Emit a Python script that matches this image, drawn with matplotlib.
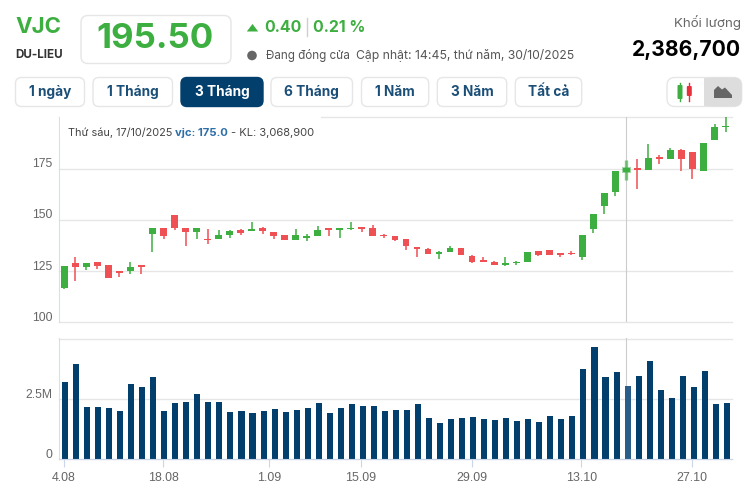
# VJC 3 month candle chart with volume
import numpy as np
import matplotlib
matplotlib.use("Agg")
import matplotlib.pyplot as plt
from matplotlib.patches import FancyBboxPatch, Circle, Polygon, Rectangle
from matplotlib.transforms import ScaledTranslation

plt.rcParams['font.family'] = ['Inter', 'DejaVu Sans']

# values
open_px = [116.8, 129.1, 127.1, 129.4, 128.1, 125.2, 124.8, 127.4, 143.0, 145.8, 152.1, 146.2, 144.0, 140.8, 140.4,
           142.8, 144.8, 144.4, 145.8, 144.1, 142.8, 140.0, 141.0, 142.0, 145.8, 144.9, 145.3, 146.6, 146.2, 142.5,
           142.3, 140.4, 136.9, 136.0, 133.3, 134.2, 136.4, 132.5, 130.0, 129.6, 128.1, 128.8, 129.2, 134.8, 135.3,
           134.0, 134.0, 131.7, 145.3, 156.5, 163.8, 173.4, 174.8, 174.5, 180.5, 179.9, 184.1, 183.0, 174.0, 189.1, 195.1]
close_px = [127.6, 127.1, 129.1, 127.6, 121.4, 123.9, 127.1, 127.2, 145.8, 142.3, 145.8, 144.0, 146.2, 140.0, 142.6,
            144.3, 143.8, 145.3, 144.4, 142.0, 140.0, 142.5, 142.3, 145.1, 144.9, 145.8, 146.2, 145.3, 142.0, 142.0,
            140.0, 137.1, 135.6, 133.3, 134.2, 136.4, 132.7, 129.6, 129.6, 127.8, 129.1, 129.6, 134.3, 133.0, 133.0,
            133.0, 133.3, 142.5, 152.8, 163.0, 173.7, 175.5, 174.5, 180.0, 179.9, 184.1, 179.9, 175.0, 187.3, 195.1, 195.8]
high_px = [127.6, 132.0, 129.1, 129.4, 128.1, 125.2, 129.6, 127.5, 146.1, 145.8, 152.5, 146.2, 146.2, 145.3, 144.8,
           144.8, 145.3, 148.7, 146.7, 144.1, 142.8, 145.3, 143.0, 147.2, 145.8, 146.2, 148.7, 146.6, 147.7, 143.1,
           142.3, 140.4, 136.9, 136.3, 134.6, 137.4, 136.4, 133.0, 132.0, 130.0, 132.0, 130.0, 134.3, 134.8, 135.3,
           134.0, 135.0, 142.5, 152.8, 163.0, 173.7, 179.0, 179.6, 187.0, 181.5, 185.0, 184.4, 183.0, 187.3, 196.8, 200.0]
low_px = [116.3, 120.3, 125.6, 126.1, 121.4, 121.9, 123.4, 123.4, 134.2, 140.4, 144.9, 137.1, 140.4, 138.4, 140.4,
          141.3, 142.5, 144.4, 143.3, 140.4, 140.0, 140.0, 139.5, 142.0, 142.3, 141.0, 144.8, 144.0, 142.0, 141.0,
          139.5, 135.5, 131.7, 133.3, 130.7, 134.2, 132.7, 128.8, 129.2, 127.8, 127.6, 128.1, 129.2, 132.2, 132.7,
          131.9, 132.7, 130.2, 143.8, 152.9, 161.4, 169.2, 165.0, 174.5, 177.4, 179.9, 174.0, 170.1, 174.0, 189.1, 193.0]
volume_m = [3.22, 3.97, 2.18, 2.18, 2.14, 2.01, 3.14, 3.01, 3.43, 2.01, 2.35, 2.39, 2.72, 2.39, 2.39, 1.97, 2.01,
            1.93, 2.01, 2.10, 1.97, 2.06, 2.14, 2.35, 1.93, 2.14, 2.31, 2.22, 2.22, 2.01, 2.06, 2.06, 2.31, 1.72,
            1.51, 1.68, 1.72, 1.76, 1.68, 1.64, 1.72, 1.60, 1.68, 1.56, 1.81, 1.68, 1.81, 3.76, 4.68, 3.43, 3.64,
            3.06, 3.47, 4.10, 2.89, 2.56, 3.47, 3.01, 3.68, 2.31, 2.35]
date_ticks = [-0.09, 8.88, 18.5, 26.8, 36.9, 46.8, 56.8]
date_labels = ['4.08', '18.08', '1.09', '15.09', '29.09', '13.10', '27.10']
price_ticks = [100, 125, 150, 175, 200]
price_labels = ['100', '125', '150', '175', '']
vol_ticks = [0, 2.5, 5]
vol_labels = ['0', '2.5M', '']
range_buttons = ['1 ngày', '1 Tháng', '3 Tháng', '6 Tháng', '1 Năm', '3 Năm', 'Tất cả']

GREEN = '#3dae40'
RED = '#ef5054'
NAVY = '#033f6d'
W, H = 755, 488
hover = 51

fig = plt.figure(figsize=(W / 100, H / 100), dpi=100, facecolor='white')


def px_axes(x0, y0, x1, y1, **kw):
    return fig.add_axes([x0 / W, 1 - y1 / H, (x1 - x0) / W, (y1 - y0) / H], **kw)


def style_axes(ax, ticks, labels):
    ax.set_yticks(ticks)
    ax.set_yticklabels(labels, family='Liberation Sans', fontsize=8.7, color='#666666')
    ax.tick_params(axis='y', length=0, pad=4.5)
    ax.grid(axis='y', color='#e6e6e6', linewidth=1)
    for line in ax.get_ygridlines():
        line.set_clip_on(False)
    ax.set_axisbelow(True)
    for s in ['top', 'right', 'bottom']:
        ax.spines[s].set_visible(False)
    ax.spines['left'].set_color('#d8deea')
    # labels sit a little above their grid lines
    shift = ScaledTranslation(0, 6 / 100, fig.dpi_scale_trans)
    for lab in ax.get_yticklabels():
        lab.set_transform(lab.get_transform() + shift)


# candles
ax = px_axes(58.7, 117.3, 731.7, 322.3)
ax.set_xlim(-0.51, 60.56)
ax.set_ylim(100, 200)
style_axes(ax, price_ticks, price_labels)
ax.set_xticks([])
o, c, hi, lo = map(np.array, (open_px, close_px, high_px, low_px))
x = np.arange(len(o))
colors = [GREEN if cl >= op else RED for op, cl in zip(o, c)]
ax.axvline(hover, color='#cccccc', linewidth=0.8, zorder=1)
alphas = [0.65 if i == hover else 1 for i in x]
for i in x:
    lw = 2.4 if i == hover else 1.1
    ax.vlines(i, lo[i], hi[i], color=colors[i], linewidth=lw, alpha=alphas[i], zorder=2)
    ax.bar(i, max(abs(c[i] - o[i]), 0.7), bottom=min(o[i], c[i]), width=0.62, color=colors[i],
           linewidth=0, zorder=3)
ax.bar(hover, abs(c[hover] - o[hover]) + 1, bottom=min(o[hover], c[hover]) - 0.5, width=0.8,
       color=GREEN, alpha=0.45, linewidth=0, zorder=2)

# volume
ax2 = px_axes(58.7, 338.3, 731.7, 459.3)
ax2.set_xlim(-0.57, 60.44)
ax2.set_ylim(0, 5.04)
style_axes(ax2, vol_ticks, vol_labels)
ax2.spines['bottom'].set_visible(True)
ax2.spines['bottom'].set_color('#c9d5e8')
ax2.axvline(50.86, color='#cccccc', linewidth=0.8, zorder=1)
bar_colors = ['#2a5d88' if i == hover else NAVY for i in x]
ax2.bar(x, volume_m, width=0.55, color=bar_colors, linewidth=0, zorder=2)
ax2.set_xticks(date_ticks)
ax2.set_xticklabels(date_labels, family='Liberation Sans', fontsize=8.9, color='#666666')
ax2.tick_params(axis='x', length=5.5, width=0.8, color='#ccd6eb', pad=3.6)

# page furniture on top, in pixel coordinates
ui = fig.add_axes([0, 0, 1, 1], facecolor='none')
ui.set_xlim(0, W)
ui.set_ylim(H, 0)
ui.axis('off')


def box(x0, y0, x1, y1, r=6, fc='white', ec='#e6e6e6'):
    p = FancyBboxPatch((x0 + r, y0 + r), x1 - x0 - 2 * r, y1 - y0 - 2 * r, boxstyle=f'round,pad={r},rounding_size={r}',
                       fc=fc, ec=ec, linewidth=1)
    ui.add_patch(p)


# white tooltip hides the top grid line
ui.add_patch(Rectangle((59.5, 116), 261, 24, fc='white', ec='none'))
ui.text(68.3, 132.5, 'Thứ sáu, 17/10/2025', fontsize=7.85, color='#444444', va='center')
ui.text(175, 132.5, 'vjc: 175.0', fontsize=8.15, color='#2f6fa8', va='center', fontweight='bold')
ui.text(231, 132.5, '- KL: 3,068,900', fontsize=8.0, color='#444444', va='center')

ui.text(15, 27, 'VJC', fontsize=16, fontweight='bold', color=GREEN, va='center')
ui.text(15, 55.5, 'DU-LIEU', fontsize=8.4, fontweight='bold', color='#333333', va='center')
box(81, 15.5, 231, 63.5, r=7)
ui.text(155.5, 38.5, '195.50', fontsize=25, fontweight='bold', color=GREEN, va='center', ha='center')
ui.add_patch(Polygon([[246.8, 31.5], [258.2, 31.5], [252.5, 24]], fc=GREEN, ec='none'))
ui.text(264, 27, '0.40', fontsize=11.4, fontweight='bold', color=GREEN, va='center')
ui.plot([306.5, 306.5], [18, 36], color='#cfcfcf', linewidth=1)
ui.text(313, 27, '0.21 %', fontsize=11.4, fontweight='bold', color=GREEN, va='center')
ui.add_patch(Circle((252, 55.5), 4.8, fc='#666666', ec='none'))
ui.text(266, 56, 'Đang đóng cửa', fontsize=8.4, color='#555555', va='center')
ui.text(356, 55, 'Cập nhật: 14:45, thứ năm, 30/10/2025', fontsize=8.78, color='#555555', va='center')
ui.text(741, 23, 'Khối lượng', fontsize=9.6, color='#666666', va='center', ha='right')
ui.text(741, 50, '2,386,700', fontsize=15.2, fontweight='bold', color='#000000', va='center', ha='right')

# range buttons
edges = [(15.5, 84.5), (93, 172.5), (181, 263), (271, 352.5), (361.5, 428.7), (437.3, 506.7), (515.3, 581.7)]
for i, (lab, (x0, x1)) in enumerate(zip(range_buttons, edges)):
    active = lab == '3 Tháng'
    box(x0, 77.5, x1, 106.5, r=6, fc=NAVY if active else 'white', ec=NAVY if active else '#e6e6e6')
    ui.text((x0 + x1) / 2, 92, lab, fontsize=9.8, fontweight='bold', color='white' if active else '#1b4f78',
            va='center', ha='center')

# chart type toggle
box(667, 77.5, 741.7, 106.5, r=8)
ui.add_patch(FancyBboxPatch((712, 85.5), 21.7, 13, boxstyle='round,pad=8,rounding_size=8', fc='#dddddd', ec='#dddddd', linewidth=0))
ui.add_patch(Rectangle((704, 78), 9, 28, fc='#dddddd', ec='none'))
ui.plot([680, 680], [83, 101], color=GREEN, linewidth=1)
ui.add_patch(FancyBboxPatch((678.5, 86), 3, 12, boxstyle='round,pad=1,rounding_size=1', fc=GREEN, ec='none'))
ui.plot([689.3, 689.3], [83, 101], color='#e8303a', linewidth=1)
ui.add_patch(FancyBboxPatch((687.8, 87), 3, 8, boxstyle='round,pad=1,rounding_size=1', fc='#e8303a', ec='none'))
ui.add_patch(Polygon([[714, 98], [714, 90], [718, 86], [722, 89.5], [725, 87.5], [732, 95], [732, 98]], fc='#666666', ec='none'))

fig.savefig('out.png', dpi=100)
